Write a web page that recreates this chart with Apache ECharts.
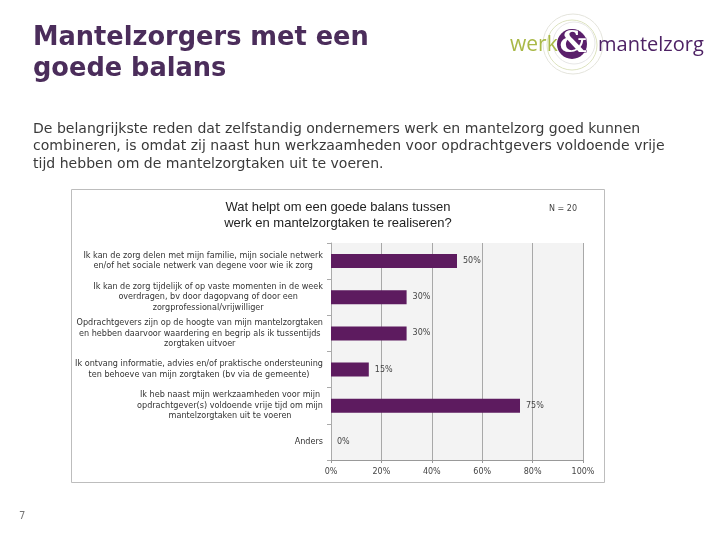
<!DOCTYPE html>
<html><head><meta charset="utf-8">
<script src="https://cdn.jsdelivr.net/npm/echarts@6/dist/echarts.min.js"></script>
<style>html,body{margin:0;padding:0;background:#fff}#c{width:720px;height:540px}</style>
</head><body><div id="c"></div>
<script>
const categories = [
  "Ik kan de zorg delen met mijn familie, mijn sociale netwerk\nen/of het sociale netwerk van degene voor wie ik zorg",
  "Ik kan de zorg tijdelijk of op vaste momenten in de week\noverdragen, bv door dagopvang of door een\nzorgprofessional/vrijwilliger",
  "Opdrachtgevers zijn op de hoogte van mijn mantelzorgtaken\nen hebben daarvoor waardering en begrip als ik tussentijds\nzorgtaken uitvoer",
  "Ik ontvang informatie, advies en/of praktische ondersteuning\nten behoeve van mijn zorgtaken (bv via de gemeente)",
  "Ik heb naast mijn werkzaamheden voor mijn\nopdrachtgever(s) voldoende vrije tijd om mijn\nmantelzorgtaken uit te voeren",
  "Anders"
];
const values = [50, 30, 30, 15, 75, 0];
const titleLines = ["Mantelzorgers met een", "goede balans"];
const introLines = [
  "De belangrijkste reden dat zelfstandig ondernemers werk en mantelzorg goed kunnen",
  "combineren, is omdat zij naast hun werkzaamheden voor opdrachtgevers voldoende vrije",
  "tijd hebben om de mantelzorgtaken uit te voeren."
];
const chartTitle = "Wat helpt om een goede balans tussen\nwerk en mantelzorgtaken te realiseren?";
const nLabel = "N = 20";
const pageNumber = "7";

const chart = echarts.init(document.getElementById('c'), null, {renderer: 'canvas'});
const purple = '#4b2d5b';
const graphics = [
  {type: 'rect', shape: {x: 71.5, y: 189.5, width: 533, height: 293}, style: {fill: '#fff', stroke: '#bdbdbd', lineWidth: 1}, z: -10},
  {type: 'text', x: 33, y: 38, scaleX: 0.95, style: {text: titleLines[0], fill: purple, fontSize: 27, fontWeight: 'bold', fontFamily: 'DejaVu Sans', textVerticalAlign: 'middle'}},
  {type: 'text', x: 33, y: 69, scaleX: 0.95, style: {text: titleLines[1], fill: purple, fontSize: 27, fontWeight: 'bold', fontFamily: 'DejaVu Sans', textVerticalAlign: 'middle'}},
  {type: 'text', x: 19, y: 516, style: {text: pageNumber, fill: '#777', fontSize: 10, fontFamily: 'DejaVu Sans', textVerticalAlign: 'middle'}},
  {type: 'text', x: 338, y: 215, style: {text: chartTitle, fill: '#222', fontSize: 13, lineHeight: 16, fontFamily: 'Liberation Sans', textAlign: 'center', textVerticalAlign: 'middle'}},
  {type: 'text', x: 563, y: 209, style: {text: nLabel, fill: '#444', fontSize: 8, fontFamily: 'DejaVu Sans', textAlign: 'center', textVerticalAlign: 'middle'}},
  // logo
  {type: 'circle', shape: {cx: 573, cy: 44, r: 30}, style: {fill: 'none', stroke: '#e4e4dc', lineWidth: 1}},
  {type: 'circle', shape: {cx: 572, cy: 45, r: 25}, style: {fill: 'none', stroke: '#dde3c0', lineWidth: 1}},
  {type: 'circle', shape: {cx: 574, cy: 43, r: 21}, style: {fill: 'none', stroke: '#e6e6e6', lineWidth: 1}},
  {type: 'circle', shape: {cx: 572, cy: 44, r: 15}, style: {fill: '#5a1f6b'}},
  {type: 'text', x: 510, y: 45, style: {text: 'werk', fill: '#a9b947', fontSize: 21, fontFamily: 'Open Sans', textVerticalAlign: 'middle'}},
  {type: 'text', x: 573, y: 44, style: {text: '&', fill: '#fff', fontSize: 30, fontWeight: 'bold', fontFamily: 'DejaVu Serif', textAlign: 'center', textVerticalAlign: 'middle', stroke: '#5a1f6b', lineWidth: 1}},
  {type: 'text', x: 598, y: 45, style: {text: 'mantelzorg', fill: '#4e2265', fontSize: 20, fontFamily: 'Open Sans', textVerticalAlign: 'middle'}}
];
introLines.forEach((t, i) => graphics.push({type: 'text', x: 33, y: 129 + i * 17.5, scaleX: 1.04, style: {text: t, fill: '#3a3a3a', fontSize: 13.5, fontFamily: 'DejaVu Sans', textVerticalAlign: 'middle'}}));

chart.setOption({
  animation: false,
  graphic: graphics,
  grid: {left: 331, right: 137, top: 243, bottom: 80, show: true, backgroundColor: '#f3f3f3', borderWidth: 0, containLabel: false},
  xAxis: {
    type: 'value', min: 0, max: 100, interval: 20,
    axisLine: {show: true, lineStyle: {color: '#999'}},
    axisTick: {show: true, length: 3, lineStyle: {color: '#999'}},
    splitLine: {show: true, lineStyle: {color: '#a8a8a8', width: 1}},
    axisLabel: {formatter: '{value}%', fontSize: 8, fontFamily: 'DejaVu Sans', color: '#444', margin: 8}
  },
  yAxis: {
    type: 'category', data: categories, inverse: true,
    axisLine: {show: true, lineStyle: {color: '#aaa'}},
    axisTick: {show: true, length: 4, lineStyle: {color: '#aaa'}},
    axisLabel: {
      margin: 8, color: '#333', fontSize: 8.1, fontFamily: 'DejaVu Sans', lineHeight: 10.5,
      formatter: function (v) {
        const lines = v.split('\n');
        if (lines.length === 1) return v;
        return lines.map(l => '{c|' + l + '}').join('\n');
      },
      rich: {c: {align: 'center', fontSize: 8.1, fontFamily: 'DejaVu Sans', lineHeight: 10.5, color: '#333'}}
    }
  },
  series: [{
    type: 'bar', data: values, barWidth: 14,
    itemStyle: {color: '#5d1b5f'},
    label: {show: true, position: 'right', distance: 6, formatter: '{c}%', fontSize: 8, fontFamily: 'DejaVu Sans', color: '#444'}
  }]
});
</script></body></html>
